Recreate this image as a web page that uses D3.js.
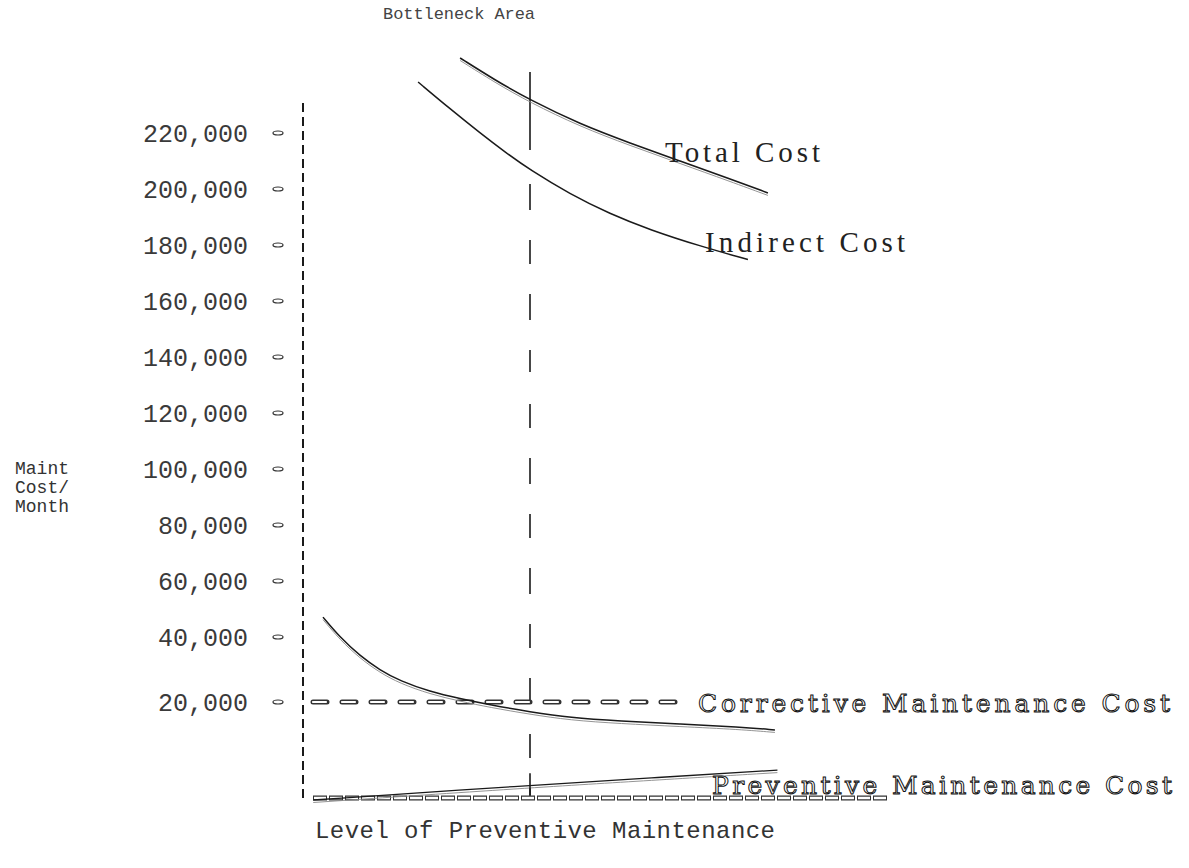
<!DOCTYPE html>
<html>
<head>
<meta charset="utf-8">
<script src="https://cdn.jsdelivr.net/npm/d3@7/dist/d3.min.js"></script>
<style>
  html, body { margin: 0; padding: 0; background: #fff; }
  svg { display: block; }
</style>
</head>
<body>
<svg id="chart" width="1189" height="868"></svg>
<script>
// Maintenance cost per month against the level of preventive maintenance
const tickValues = [20000, 40000, 60000, 80000, 100000, 120000, 140000, 160000, 180000, 200000, 220000];

// Level of preventive maintenance (arbitrary units, bottleneck at 10)
const bottleneckLevel = 10;

const totalLevel = [6.92, 8.46, 10, 12.2, 14.41, 16.61, 18.81, 20.48];
const totalCost  = [246800, 238900, 231800, 223200, 216400, 210000, 203600, 198600];

const indirectLevel = [5.07, 6.48, 7.80, 8.90, 10, 11.76, 13.52, 15.29, 17.49, 19.6];
const indirectCost  = [238200, 228600, 220000, 213200, 206800, 198200, 191100, 185400, 179600, 174800];

const correctiveLevel = [0.88, 1.63, 2.51, 3.39, 4.27, 5.59, 6.92, 8.24, 10, 11.76, 13.96, 16.6, 19.25, 20.79];
const correctiveCost  = [47100, 39900, 34200, 29800, 26500, 23200, 21000, 19400, 18000, 16800, 16100, 15500, 14900, 14300];

const preventiveLevel = [0.45, 10, 15.3, 20.9];
const preventiveCost  = [0, 3000, 4500, 6100];

const referenceCost = 20000;

const svg = d3.select("#chart");

const x = d3.scaleLinear().domain([0, 20]).range([303, 757]);
const y = d3.scaleLinear()
  .domain([0, 20000, 40000, 220000])
  .range([800, 702, 637, 133]);

const ink = "#1a1a1a";

// Vertical axis (dashed)
svg.append("line")
  .attr("x1", x(0)).attr("x2", x(0))
  .attr("y1", 103).attr("y2", y(0))
  .attr("stroke", ink).attr("stroke-width", 2)
  .attr("stroke-dasharray", "9,5");

// Tick labels and small oval tick marks
const yAxis = svg.append("g");
yAxis.selectAll("text.tick")
  .data(tickValues)
  .join("text")
  .attr("class", "tick")
  .attr("x", 248)
  .attr("y", d => y(d))
  .attr("dy", "0.35em")
  .attr("text-anchor", "end")
  .attr("font-family", "Liberation Mono, monospace")
  .attr("font-size", 25)
  .attr("fill", "#3a3a3a")
  .text(d => d3.format(",")(d));

yAxis.selectAll("ellipse")
  .data(tickValues)
  .join("ellipse")
  .attr("cx", 278)
  .attr("cy", d => y(d))
  .attr("rx", 5).attr("ry", 2)
  .attr("fill", "none")
  .attr("stroke", "#333")
  .attr("stroke-width", 1.2);

// Axis titles
svg.append("text")
  .attr("x", 15).attr("y", 474)
  .attr("font-family", "Liberation Mono, monospace")
  .attr("font-size", 18)
  .attr("fill", "#333")
  .selectAll("tspan")
  .data(["Maint", "Cost/", "Month"])
  .join("tspan")
  .attr("x", 15)
  .attr("dy", (d, i) => i === 0 ? 0 : 19)
  .text(d => d);

svg.append("text")
  .attr("x", 315).attr("y", 838)
  .attr("font-family", "Liberation Mono, monospace")
  .attr("font-size", 24)
  .attr("textLength", 460)
  .attr("lengthAdjust", "spacing")
  .attr("fill", "#333")
  .text("Level of Preventive Maintenance");

// Bottleneck marker
svg.append("line")
  .attr("x1", x(bottleneckLevel)).attr("x2", x(bottleneckLevel))
  .attr("y1", 72).attr("y2", y(0))
  .attr("stroke", ink).attr("stroke-width", 1.6)
  .attr("stroke-dasharray", "78,34,26,30,24,30,26,30,22,32,24,30,26,30,24,30,26,30,24,30,26,30,24,30");

svg.append("text")
  .attr("x", 383).attr("y", 19)
  .attr("font-family", "Liberation Mono, monospace")
  .attr("font-size", 17)
  .attr("textLength", 152)
  .attr("lengthAdjust", "spacing")
  .attr("fill", "#444")
  .text("Bottleneck Area");

// Baseline drawn as a chain of hollow links
const baseY = y(0) - 2;
svg.append("line")
  .attr("x1", 313).attr("x2", 888)
  .attr("y1", baseY).attr("y2", baseY)
  .attr("stroke", "#333").attr("stroke-width", 5)
  .attr("stroke-dasharray", "14,2");
svg.append("line")
  .attr("x1", 313).attr("x2", 888)
  .attr("y1", baseY).attr("y2", baseY)
  .attr("stroke", "#fff").attr("stroke-width", 2.4)
  .attr("stroke-dasharray", "12,4")
  .attr("stroke-dashoffset", -1);

// 20,000 reference line of hollow dashes
const refY = y(referenceCost);
svg.append("line")
  .attr("x1", 313).attr("x2", 690)
  .attr("y1", refY).attr("y2", refY)
  .attr("stroke", "#333").attr("stroke-width", 5)
  .attr("stroke-linecap", "round")
  .attr("stroke-dasharray", "14,15");
svg.append("line")
  .attr("x1", 313).attr("x2", 690)
  .attr("y1", refY).attr("y2", refY)
  .attr("stroke", "#fff").attr("stroke-width", 2.2)
  .attr("stroke-linecap", "round")
  .attr("stroke-dasharray", "0,1,12,16");

// Cost curves
const line = d3.line()
  .x(d => x(d[0]))
  .y(d => y(d[1]))
  .curve(d3.curveBasis);

function drawCurve(levels, values, width, ghost) {
  const pts = levels.map((l, i) => [l, values[i]]);
  if (ghost) {
    svg.append("path")
      .attr("d", line(pts))
      .attr("transform", "translate(0,2.5)")
      .attr("fill", "none")
      .attr("stroke", "#888")
      .attr("stroke-width", 0.9);
  }
  svg.append("path")
    .attr("d", line(pts))
    .attr("fill", "none")
    .attr("stroke", ink)
    .attr("stroke-width", width);
}

drawCurve(totalLevel, totalCost, 1.6, true);
drawCurve(indirectLevel, indirectCost, 1.5, false);
drawCurve(correctiveLevel, correctiveCost, 1.5, true);
drawCurve(preventiveLevel, preventiveCost, 1.3, true);

// Cross where the bottleneck meets the preventive curve
const crossY = y(3000);
svg.append("line")
  .attr("x1", x(bottleneckLevel)).attr("x2", x(bottleneckLevel))
  .attr("y1", crossY - 12).attr("y2", crossY + 10)
  .attr("stroke", ink).attr("stroke-width", 1.6);

// Curve labels
svg.append("text")
  .attr("x", 665).attr("y", 162)
  .attr("font-family", "Liberation Serif, serif")
  .attr("font-size", 29)
  .attr("textLength", 155)
  .attr("lengthAdjust", "spacing")
  .attr("fill", "#222")
  .text("Total Cost");

svg.append("text")
  .attr("x", 705).attr("y", 252)
  .attr("font-family", "Liberation Serif, serif")
  .attr("font-size", 29)
  .attr("textLength", 200)
  .attr("lengthAdjust", "spacing")
  .attr("fill", "#222")
  .text("Indirect Cost");

svg.append("text")
  .attr("x", 698).attr("y", 712)
  .attr("font-family", "DejaVu Serif, serif")
  .attr("font-size", 25)
  .attr("textLength", 472)
  .attr("lengthAdjust", "spacing")
  .attr("fill", "#fff")
  .attr("stroke", "#111")
  .attr("stroke-width", 1)
  .text("Corrective Maintenance Cost");

svg.append("text")
  .attr("x", 712).attr("y", 794)
  .attr("font-family", "DejaVu Serif, serif")
  .attr("font-size", 25)
  .attr("textLength", 460)
  .attr("lengthAdjust", "spacing")
  .attr("fill", "#fff")
  .attr("stroke", "#111")
  .attr("stroke-width", 1)
  .text("Preventive Maintenance Cost");
</script>
</body>
</html>
